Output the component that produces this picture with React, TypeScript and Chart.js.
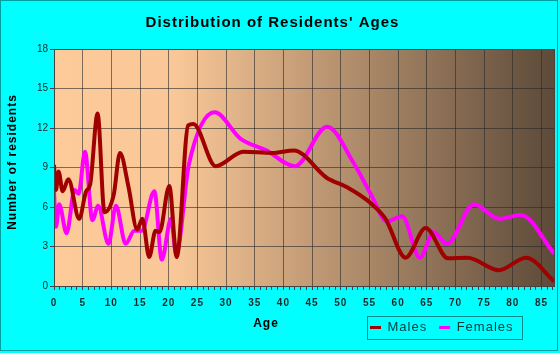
import { useEffect, useRef } from 'react';
import { Chart, registerables } from 'chart.js';

Chart.register(...registerables);

const TITLE = "Distribution of Residents' Ages";
const X_TITLE = 'Age';
const Y_TITLE = 'Number of residents';
const SERIES_NAMES = ['Males', 'Females'];

const maleAges = [0, 0.35, 0.8, 1.5, 2.5, 4.4, 5.6, 6.3, 7.6, 8.8, 10.4, 11.5, 13, 14.5, 15.4, 16.6, 17.7, 18.4, 20.1, 21.4, 23.4, 24.3, 28.2, 33, 38, 41.8, 47.6, 51.1, 55.2, 57.8, 61.3, 64.8, 68.7, 72.1, 77.6, 82.3, 87.2];
const maleValues = [9.2, 7.3, 8.7, 7.2, 8.1, 5.1, 7.2, 7.7, 13.1, 5.6, 6.9, 10.1, 7.5, 4.3, 5.1, 2.2, 4.2, 4.1, 7.6, 2.2, 12.2, 12.3, 9.1, 10.2, 10.1, 10.3, 8.2, 7.5, 6.3, 5.1, 2.15, 4.4, 2.1, 2.15, 1.2, 2.15, 0.35];

const femaleAges = [0, 0.35, 0.9, 2.2, 3.6, 4.3, 5.4, 6.7, 7.7, 9.5, 10.8, 12.5, 14, 15.3, 17.5, 18.8, 20.4, 21.3, 23.5, 28, 32.5, 37, 42, 47.6, 52.3, 55.2, 58.1, 60.7, 63.8, 66.2, 68.5, 73.2, 77.6, 81.4, 87.2];
const femaleValues = [7.2, 4.5, 6.2, 4.0, 7.3, 7.0, 10.2, 5.0, 6.1, 3.2, 6.1, 3.2, 4.2, 4.2, 7.2, 2.0, 5.1, 2.4, 9.2, 13.2, 11.2, 10.3, 9.1, 12.1, 9.3, 7.0, 4.9, 5.3, 2.15, 4.1, 3.2, 6.2, 5.1, 5.4, 2.45];

const X_MIN = 0;
const X_MAX = 87.2;
const X_STEP = 1;
const X_LABEL_EVERY = 5;
const Y_MIN = 0;
const Y_MAX = 18;
const Y_STEP = 3;

// layout constants
const W = 560;
const H = 353;
const PLOT_LEFT = 54;
const PLOT_RIGHT = 555;
const PLOT_TOP = 49;
const PLOT_BOTTOM = 286;
const AGE_CX = 266;
const AGE_CY = 324;
const YT_CY = 162;
const LEGEND_BOX = { x: 367, y: 316, w: 155, h: 23 };
const LEGEND_PAD = 12;
const FONT = "'Liberation Sans', Arial, Helvetica, sans-serif";

export default function App() {
  const ref = useRef<HTMLCanvasElement>(null);

  useEffect(() => {
    document.body.style.margin = '0';
    const canvas = ref.current!;

    const deco = {
      id: 'deco',
      beforeLayout(chart: any) {
        chart.ctx.letterSpacing = '1px';
      },
      afterLayout(chart: any) {
        const xs: any = chart.scales.x;
        const ys: any = chart.scales.y;
        if (!xs.__patched) {
          xs.__patched = true;
          const origX = xs.drawTitle;
          xs.drawTitle = function () {
            const c = this.ctx;
            c.save();
            const lh = 12 * 1.2;
            c.translate(AGE_CX - (this.left + this.right) / 2, AGE_CY - (this.bottom - lh / 2));
            origX.call(this);
            c.restore();
          };
        }
        if (!ys.__patched) {
          ys.__patched = true;
          const origT = ys.drawTitle;
          ys.drawTitle = function () {
            const c = this.ctx;
            c.save();
            c.translate(0, YT_CY - (this.top + this.bottom) / 2);
            origT.call(this);
            c.restore();
          };
          const origL = ys.drawLabels;
          ys.drawLabels = function (a: any) {
            const c = this.ctx;
            c.save();
            c.letterSpacing = '0px';
            origL.call(this, a);
            c.restore();
          };
        }
        const lg = chart.legend;
        if (lg) {
          const h = lg.height;
          lg.left = LEGEND_BOX.x + 3 - LEGEND_PAD;
          lg.right = lg.left + 230;
          lg.top = LEGEND_BOX.y + LEGEND_BOX.h / 2 - 6.5 - LEGEND_PAD;
          lg.bottom = lg.top + h;
        }
        const tb = chart.titleBlock;
        if (tb) {
          tb.left = 0;
          tb.right = 545;
        }
      },
      beforeDraw(chart: any) {
        const { ctx, chartArea: a } = chart;
        ctx.save();
        ctx.fillStyle = '#00FFFF';
        ctx.fillRect(0, 0, W, H);
        ctx.strokeStyle = '#00A0A0';
        ctx.lineWidth = 1;
        ctx.strokeRect(0.5, 0.5, W - 3, H - 3);
        const g = ctx.createLinearGradient(a.left, 0, a.right, 0);
        g.addColorStop(0, '#FDCB9A');
        g.addColorStop(0.24, '#FAC898');
        g.addColorStop(1, '#5D4A39');
        ctx.fillStyle = g;
        ctx.fillRect(a.left, a.top, a.right - a.left, a.bottom - a.top);
        ctx.restore();
        ctx.letterSpacing = '1px';
      },
      afterDraw(chart: any) {
        const { ctx, chartArea: a } = chart;
        ctx.save();
        ctx.strokeStyle = '#444444';
        ctx.lineWidth = 1;
        ctx.strokeRect(Math.round(a.left) + 0.5, Math.round(a.top) + 0.5, Math.round(a.right - a.left), Math.round(a.bottom - a.top));
        ctx.strokeStyle = '#008B8B';
        ctx.strokeRect(LEGEND_BOX.x + 0.5, LEGEND_BOX.y + 0.5, LEGEND_BOX.w, LEGEND_BOX.h);
        ctx.restore();
      },
    };

    const chart = new Chart(canvas, {
      type: 'line',
      data: {
        datasets: [
          {
            label: SERIES_NAMES[0],
            data: maleAges.map((x, i) => ({ x, y: maleValues[i] })),
            borderColor: '#A00000',
            backgroundColor: '#A00000',
            borderWidth: 4,
            pointRadius: 0,
            cubicInterpolationMode: 'monotone',
            fill: false,
          },
          {
            label: SERIES_NAMES[1],
            data: femaleAges.map((x, i) => ({ x, y: femaleValues[i] })),
            borderColor: '#FF00FF',
            backgroundColor: '#FF00FF',
            borderWidth: 4,
            pointRadius: 0,
            cubicInterpolationMode: 'monotone',
            fill: false,
          },
        ],
      },
      options: {
        responsive: false,
        animation: false,
        devicePixelRatio: 1,
        layout: { padding: { left: 0, right: W - PLOT_RIGHT, top: 0, bottom: 0 } },
        font: { family: FONT },
        plugins: {
          tooltip: { enabled: false },
          title: {
            display: true,
            text: TITLE,
            color: '#000000',
            font: { family: FONT, size: 15, weight: 'bold' },
            padding: { top: 14, bottom: PLOT_TOP - 14 - 18 },
          },
          legend: {
            display: true,
            position: 'bottom',
            align: 'start',
            labels: {
              boxWidth: 11,
              boxHeight: 3,
              padding: LEGEND_PAD,
              color: '#0A3A3A',
              font: { family: FONT, size: 13 },
              generateLabels: (c: any) =>
                c.data.datasets.map((ds: any, i: number) => ({
                  text: ds.label,
                  fillStyle: ds.borderColor,
                  strokeStyle: ds.borderColor,
                  lineWidth: 0,
                  hidden: false,
                  datasetIndex: i,
                  fontColor: '#0A3A3A',
                })),
            },
          },
        },
        scales: {
          x: {
            type: 'linear',
            min: X_MIN,
            max: X_MAX,
            afterFit: (s: any) => {
              s.height = (H - PLOT_BOTTOM) - (s.chart.legend ? s.chart.legend.height : 0);
            },
            ticks: {
              stepSize: X_STEP,
              includeBounds: false,
              autoSkip: false,
              maxRotation: 0,
              minRotation: 0,
              padding: 7,
              color: '#1A2A2A',
              font: { family: FONT, size: 10, weight: 'bold' },
              callback: (v: any) => (Math.round(v) % X_LABEL_EVERY === 0 ? String(Math.round(v)) : ''),
            },
            grid: {
              color: (c: any) => (c.tick && Math.round(c.tick.value) % X_LABEL_EVERY === 0 ? 'rgba(40,40,40,0.6)' : 'rgba(0,0,0,0)'),
              tickColor: '#444444',
              tickLength: 4,
              lineWidth: 1,
            },
            border: { display: true, color: '#444444', width: 1 },
            title: {
              display: true,
              text: X_TITLE,
              color: '#000000',
              font: { family: FONT, size: 12, weight: 'bold' },
              padding: { top: 0, bottom: 0 },
            },
          },
          y: {
            type: 'linear',
            min: Y_MIN,
            max: Y_MAX,
            afterFit: (s: any) => {
              s.width = PLOT_LEFT;
            },
            ticks: {
              stepSize: Y_STEP,
              padding: 2,
              color: '#1A2A2A',
              font: { family: FONT, size: 10 },
            },
            grid: {
              color: 'rgba(40,40,40,0.6)',
              tickColor: '#444444',
              tickLength: 4,
              lineWidth: 1,
            },
            border: { display: true, color: '#444444', width: 1 },
            title: {
              display: true,
              text: Y_TITLE,
              color: '#000000',
              font: { family: FONT, size: 12, weight: 'bold' },
              padding: { top: 5, bottom: 0 },
            },
          },
        },
      },
      plugins: [deco],
    } as any);

    return () => chart.destroy();
  }, []);

  return <canvas ref={ref} width={W} height={H} style={{ display: 'block', width: W, height: H }} />;
}
